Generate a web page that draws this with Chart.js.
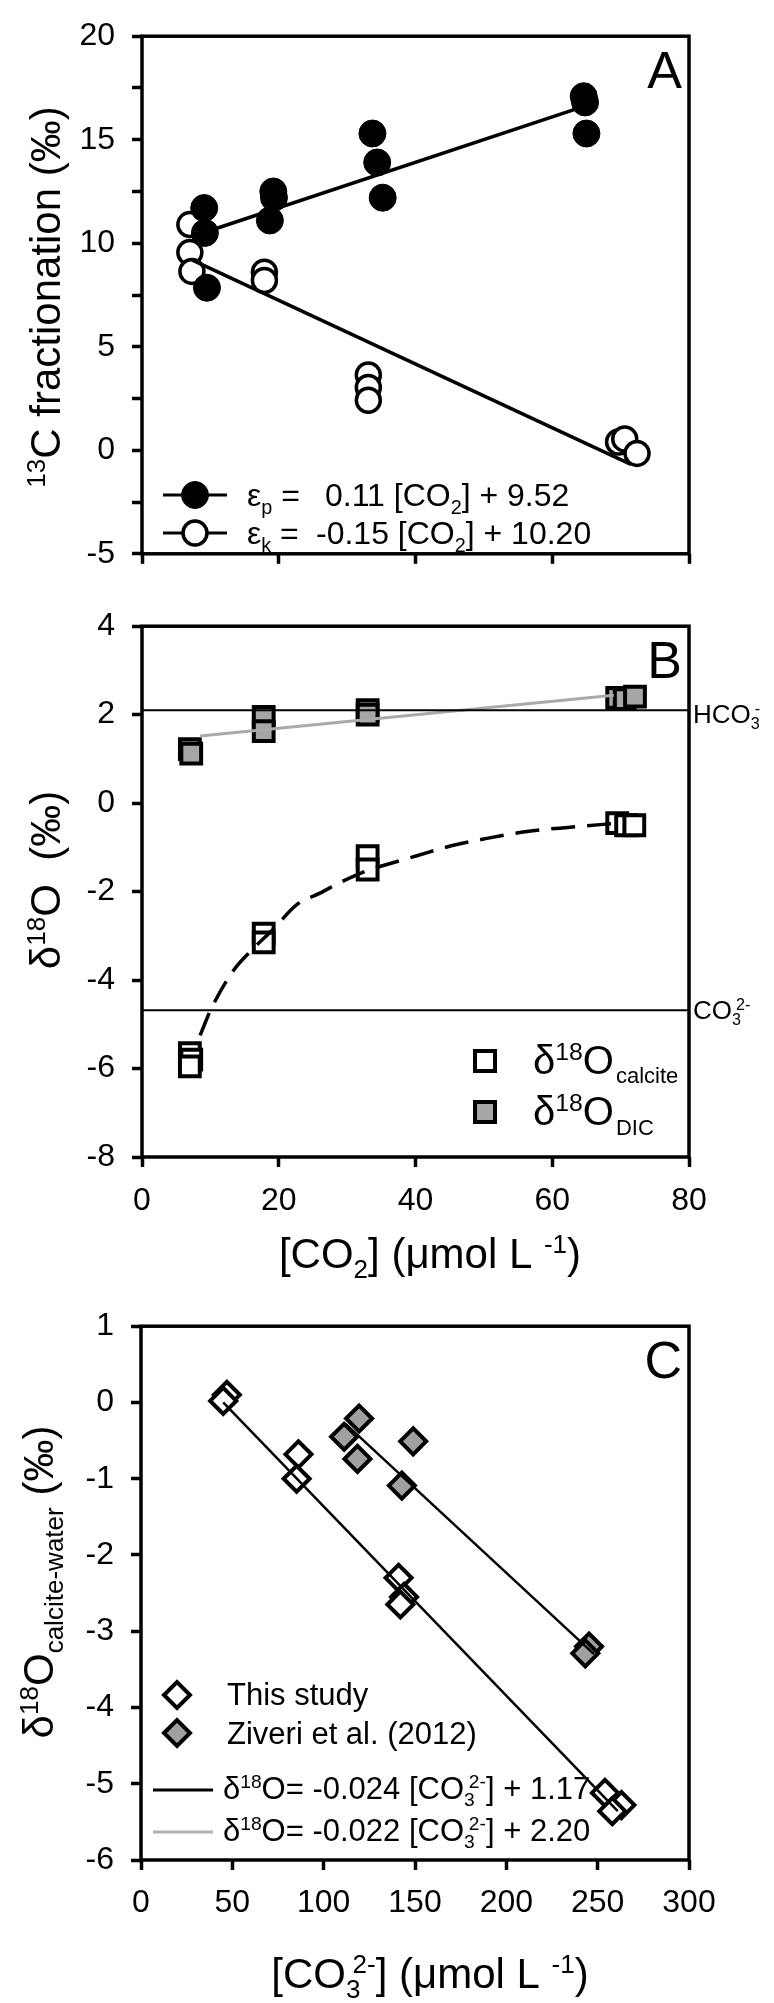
<!DOCTYPE html>
<html>
<head>
<meta charset="utf-8">
<script src="https://cdn.jsdelivr.net/npm/chart.js@4.4.1/dist/chart.umd.min.js"></script>
<style>
  body { margin: 0; background: #fff; }
  #wrap { position: relative; width: 774px; height: 2003px; }
  canvas { position: absolute; left: 0; }
</style>
</head>
<body>
<div id="wrap">
  <canvas id="chartA" width="774" height="590" style="top:0px"></canvas>
  <canvas id="chartB" width="774" height="700" style="top:590px"></canvas>
  <canvas id="chartC" width="774" height="713" style="top:1290px"></canvas>
</div>
<script>
// ---- panel A : 13C fractionation vs CO2 ----
var epsPX = [9.1, 9.2, 9.5, 19.2, 19.3, 18.7, 33.7, 34.4, 35.2, 64.6, 64.8, 65.0];
var epsPY = [11.7, 10.5, 7.85, 12.5, 12.2, 11.1, 15.3, 13.9, 12.2, 17.1, 16.8, 15.3];
var epsKX = [7.0, 7.0, 7.3, 17.9, 17.9, 33.1, 33.1, 33.1, 69.7, 70.6, 72.4];
var epsKY = [10.9, 9.55, 8.64, 8.6, 8.2, 3.64, 3.03, 2.42, 0.4, 0.55, -0.15];
var fitPX = [9.2, 63.2];
var fitPY = [10.53, 16.45];
var fitKX = [7.3, 71.5];
var fitKY = [9.2, -0.68];
var xTicksA = [0, 20, 40, 60, 80];
var yTicksA = [-5, 0, 5, 10, 15, 20];

// ---- panel B : d18O vs CO2 ----
var dicX = [7.0, 7.2, 17.8, 17.8, 33.0, 33.0, 69.5, 70.6, 72.1];
var dicY = [1.22, 1.12, 1.95, 1.63, 2.1, 2.0, 2.38, 2.35, 2.41];
var calX = [7.0, 7.2, 7.0, 17.8, 17.8, 33.0, 33.0, 69.5, 70.8, 72.0];
var calY = [-5.65, -5.8, -5.95, -2.95, -3.15, -1.2, -1.5, -0.45, -0.5, -0.5];
var curveX = [8.5, 10, 13.3, 16.2, 19.2, 22.6, 26.1, 29.3, 33, 35.3, 40.2, 45.1, 50, 56.3, 63, 69];
var curveY = [-5.25, -4.69, -3.8, -3.3, -2.85, -2.3, -2.03, -1.77, -1.52, -1.41, -1.19, -0.97, -0.81, -0.64, -0.54, -0.46];
var dicFitX = [8.5, 69];
var dicFitY = [1.52, 2.44];
var hco3Level = 2.1;
var co3Level = -4.68;
var xTicksB = [0, 20, 40, 60, 80];
var yTicksB = [-8, -6, -4, -2, 0, 2, 4];

// ---- panel C : d18O calcite-water vs CO3 ----
var thisX = [47, 45, 86.2, 85.2, 141, 144, 142, 254, 263, 258];
var thisY = [0.1, 0.02, -0.68, -1.0, -2.3, -2.55, -2.65, -5.12, -5.28, -5.36];
var zivX = [119.4, 111.2, 118.5, 149, 142.8, 245.3, 243.2];
var zivY = [-0.21, -0.45, -0.74, -0.51, -1.09, -3.2, -3.29];
var fit1X = [45, 261];
var fit1Y = [0.0, -5.36];
var fit2X = [112, 248];
var fit2Y = [-0.28, -3.3];
var xTicksC = [0, 50, 100, 150, 200, 250, 300];
var yTicksC = [-6, -5, -4, -3, -2, -1, 0, 1];

var FONT = "'Liberation Sans', Arial, sans-serif";
var GREY = '#a6a6a6';
var TICK = 32, TITLE = 42;
Chart.defaults.font.family = FONT;
Chart.defaults.color = '#000';

function pts(xs, ys) {
  return xs.map(function(x, i) { return { x: x, y: ys[i] }; });
}

// text with sub / superscripts : [text, kind]  kind: n, b (sub), p (sup), s (stacked [sub, sup])
function drawRich(ctx, parts, x, y, size, align) {
  var small = size * 0.62;
  var w = 0, pieces = [];
  parts.forEach(function(p) {
    var k = p[1] || 'n';
    if (k === 's') {
      ctx.font = small + 'px ' + FONT;
      var w1 = ctx.measureText(p[0][0]).width, w2 = ctx.measureText(p[0][1]).width;
      pieces.push({ k: k, t: p[0], x: w });
      w += Math.max(w1, w2 + small * 0.25);
    } else {
      ctx.font = (k === 'n' ? size : small) + 'px ' + FONT;
      pieces.push({ k: k, t: p[0], x: w });
      w += ctx.measureText(p[0]).width;
    }
  });
  var x0 = align === 'center' ? x - w / 2 : (align === 'right' ? x - w : x);
  ctx.textAlign = 'left';
  ctx.textBaseline = 'alphabetic';
  ctx.fillStyle = '#000';
  var subDy = size * 0.24, supDy = -size * 0.36;
  pieces.forEach(function(p) {
    if (p.k === 's') {
      ctx.font = small + 'px ' + FONT;
      ctx.fillText(p.t[0], x0 + p.x, y + subDy);
      ctx.fillText(p.t[1], x0 + p.x + small * 0.25, y + supDy);
    } else {
      ctx.font = (p.k === 'n' ? size : small) + 'px ' + FONT;
      ctx.fillText(p.t, x0 + p.x, y + (p.k === 'b' ? subDy : (p.k === 'p' ? supDy : 0)));
    }
  });
  return w;
}

function vTitle(ctx, parts, cx, cy, size) {
  ctx.save();
  ctx.translate(cx, cy);
  ctx.rotate(-Math.PI / 2);
  drawRich(ctx, parts, 0, size * 0.36, size, 'center');
  ctx.restore();
}

function frame(chart) {
  var ca = chart.chartArea, ctx = chart.ctx;
  ctx.strokeStyle = '#000';
  ctx.lineWidth = 3.5;
  ctx.strokeRect(ca.left, ca.top, ca.right - ca.left, ca.bottom - ca.top);
}

function letter(chart, txt) {
  var ctx = chart.ctx, ca = chart.chartArea;
  ctx.font = '52px ' + FONT;
  ctx.textAlign = 'right';
  ctx.textBaseline = 'alphabetic';
  ctx.fillStyle = '#000';
  ctx.fillText(txt, ca.right - 7, ca.top + 52);
}

function circle(ctx, x, y, r, fill, bw) {
  ctx.beginPath();
  ctx.arc(x, y, r, 0, Math.PI * 2);
  ctx.fillStyle = fill;
  ctx.fill();
  ctx.lineWidth = bw;
  ctx.strokeStyle = '#000';
  ctx.stroke();
}
function square(ctx, x, y, s, fill) {
  ctx.fillStyle = fill;
  ctx.fillRect(x - s / 2, y - s / 2, s, s);
  ctx.lineWidth = 4;
  ctx.strokeStyle = '#000';
  ctx.strokeRect(x - s / 2, y - s / 2, s, s);
}
function diamond(ctx, x, y, r, fill) {
  ctx.beginPath();
  ctx.moveTo(x - r, y); ctx.lineTo(x, y - r); ctx.lineTo(x + r, y); ctx.lineTo(x, y + r);
  ctx.closePath();
  ctx.fillStyle = fill;
  ctx.fill();
  ctx.lineWidth = 4;
  ctx.strokeStyle = '#000';
  ctx.stroke();
}
function hline(ctx, x1, x2, y, color) {
  ctx.beginPath();
  ctx.moveTo(x1, y); ctx.lineTo(x2, y);
  ctx.lineWidth = 3;
  ctx.strokeStyle = color;
  ctx.stroke();
}

function scaleOpts(ticks, step, fit, horizontal, showLabels, pad) {
  return {
    type: 'linear',
    min: ticks[0],
    max: ticks[ticks.length - 1],
    border: { display: false },
    grid: { drawOnChartArea: false, drawTicks: true, tickLength: 10, tickWidth: 3.5, tickColor: '#000' },
    ticks: {
      stepSize: step,
      autoSkip: false,
      maxRotation: 0,
      padding: pad,
      font: { size: TICK },
      color: '#000',
      callback: function(v) {
        return (showLabels && ticks.indexOf(v) >= 0) ? String(v) : '';
      }
    },
    afterFit: function(s) {
      if (horizontal) s.height = fit; else s.width = fit;
    }
  };
}

function baseOptions(padTop, xScale, yScale) {
  return {
    responsive: false,
    animation: false,
    layout: { padding: { top: padTop, right: 85, bottom: 0, left: 0 } },
    plugins: { legend: { display: false }, tooltip: { enabled: false } },
    scales: { x: xScale, y: yScale }
  };
}

function lineSet(xs, ys, color, width, extra) {
  var d = {
    data: pts(xs, ys), showLine: true, pointRadius: 0,
    borderColor: color, borderWidth: width, order: 0, fill: false
  };
  for (var k in extra) d[k] = extra[k];
  return d;
}

// ---------- A ----------
new Chart(document.getElementById('chartA'), {
  type: 'scatter',
  data: {
    datasets: [
      lineSet(fitPX, fitPY, '#000', 3.5),
      lineSet(fitKX, fitKY, '#000', 3.5),
      { data: pts(epsPX, epsPY), pointStyle: 'circle', pointRadius: 13.5, backgroundColor: '#000', borderColor: '#000', borderWidth: 1, order: 1 },
      { data: pts(epsKX, epsKY), pointStyle: 'circle', pointRadius: 12, backgroundColor: '#fff', borderColor: '#000', borderWidth: 3.5, order: 1 }
    ]
  },
  options: baseOptions(20,
    scaleOpts(xTicksA, 20, 21, true, false, 10),
    scaleOpts(yTicksA, 2.5, 142, false, true, 17)),
  plugins: [{
    id: 'decorA',
    afterDraw: function(chart) {
      var ctx = chart.ctx;
      ctx.save();
      frame(chart);
      letter(chart, 'A');
      vTitle(ctx, [['13', 'p'], ['C fractionation (\u2030)']], 45, 297, TITLE);
      // legend
      hline(ctx, 163, 227, 495, '#000');
      circle(ctx, 195, 495, 13.5, '#000', 1);
      hline(ctx, 163, 227, 533, '#000');
      circle(ctx, 195, 533, 12, '#fff', 3.5);
      drawRich(ctx, [['\u03b5'], ['p', 'b'], [' =']], 247, 506, 32, 'left');
      drawRich(ctx, [['0.11 [CO'], ['2', 'b'], ['] + 9.52']], 325, 506, 32, 'left');
      drawRich(ctx, [['\u03b5'], ['k', 'b'], [' =']], 247, 544, 32, 'left');
      drawRich(ctx, [['-0.15 [CO'], ['2', 'b'], ['] + 10.20']], 316, 544, 32, 'left');
      ctx.restore();
    }
  }]
});

// ---------- B ----------
new Chart(document.getElementById('chartB'), {
  type: 'scatter',
  data: {
    datasets: [
      lineSet(xTicksB.slice(0, 1).concat(xTicksB.slice(-1)), [hco3Level, hco3Level], '#000', 2),
      lineSet(xTicksB.slice(0, 1).concat(xTicksB.slice(-1)), [co3Level, co3Level], '#000', 2),
      lineSet(dicFitX, dicFitY, '#aaaaaa', 3),
      lineSet(curveX, curveY, '#000', 3.5, { borderDash: [24, 12], cubicInterpolationMode: 'monotone' }),
      { data: pts(calX, calY), pointStyle: 'rect', pointRadius: 14, backgroundColor: '#fff', borderColor: '#000', borderWidth: 4, order: 1 },
      { data: pts(dicX, dicY), pointStyle: 'rect', pointRadius: 14, backgroundColor: GREY, borderColor: '#000', borderWidth: 4, order: 1 }
    ]
  },
  options: baseOptions(20,
    scaleOpts(xTicksB, 20, 133, true, true, 15),
    scaleOpts(yTicksB, 2, 142, false, true, 17)),
  plugins: [{
    id: 'decorB',
    afterDraw: function(chart) {
      var ctx = chart.ctx, oy = 590;
      var ys = chart.scales.y;
      ctx.save();
      frame(chart);
      letter(chart, 'B');
      vTitle(ctx, [['\u03b4'], ['18', 'p'], ['O  (\u2030)']], 45, 880 - oy, TITLE);
      drawRich(ctx, [['[CO'], ['2', 'b'], ['] (\u03bcmol L '], ['-1', 'p'], [')']], 430, 1268 - oy, TITLE, 'center');
      drawRich(ctx, [['HCO'], [['3', '-'], 's']], 693, ys.getPixelForValue(hco3Level) + 13, 26, 'left');
      drawRich(ctx, [['CO'], [['3', '2-'], 's']], 693, ys.getPixelForValue(co3Level) + 9, 26, 'left');
      // legend
      square(ctx, 485, 1061 - oy, 20, '#fff');
      square(ctx, 485, 1112 - oy, 20, GREY);
      var w1 = drawRich(ctx, [['\u03b4'], ['18', 'p'], ['O']], 533, 1074 - oy, 40, 'left');
      drawRich(ctx, [['calcite']], 535 + w1, 1083 - oy, 22, 'left');
      var w2 = drawRich(ctx, [['\u03b4'], ['18', 'p'], ['O']], 533, 1125 - oy, 40, 'left');
      drawRich(ctx, [['DIC']], 535 + w2, 1135 - oy, 22, 'left');
      ctx.restore();
    }
  }]
});

// ---------- C ----------
new Chart(document.getElementById('chartC'), {
  type: 'scatter',
  data: {
    datasets: [
      lineSet(fit1X, fit1Y, '#000', 2.5),
      lineSet(fit2X, fit2Y, '#000', 2.5),
      { data: pts(zivX, zivY), pointStyle: 'rectRot', pointRadius: 13, backgroundColor: '#a0a0a0', borderColor: '#000', borderWidth: 4, order: 1 },
      { data: pts(thisX, thisY), pointStyle: 'rectRot', pointRadius: 13, backgroundColor: '#fff', borderColor: '#000', borderWidth: 4, order: 1 }
    ]
  },
  options: baseOptions(22,
    scaleOpts(xTicksC, 50, 143, true, true, 14),
    scaleOpts(yTicksC, 1, 141, false, true, 17)),
  plugins: [{
    id: 'decorC',
    afterDraw: function(chart) {
      var ctx = chart.ctx, oy = 1290;
      ctx.save();
      frame(chart);
      letter(chart, 'C');
      vTitle(ctx, [['\u03b4'], ['18', 'p'], ['O'], ['calcite-water', 'b'], [' (\u2030)']], 38, 1582 - oy, TITLE);
      drawRich(ctx, [['[CO'], [['3', '2-'], 's'], ['] (\u03bcmol L '], ['-1', 'p'], [')']], 430, 1988 - oy, TITLE, 'center');
      // legend
      diamond(ctx, 177, 1695 - oy, 13, '#fff');
      diamond(ctx, 177, 1733 - oy, 13, '#a0a0a0');
      drawRich(ctx, [['This study']], 227, 1705 - oy, 31, 'left');
      drawRich(ctx, [['Ziveri et al. (2012)']], 227, 1744 - oy, 31, 'left');
      hline(ctx, 153, 213, 1790 - oy, '#000');
      hline(ctx, 153, 213, 1832 - oy, '#b0b0b0');
      drawRich(ctx, [['\u03b4'], ['18', 'p'], ['O= -0.024 [CO'], [['3', '2-'], 's'], ['] + 1.17']], 223, 1799 - oy, 31, 'left');
      drawRich(ctx, [['\u03b4'], ['18', 'p'], ['O= -0.022 [CO'], [['3', '2-'], 's'], ['] + 2.20']], 223, 1841 - oy, 31, 'left');
      ctx.restore();
    }
  }]
});
</script>
</body>
</html>
